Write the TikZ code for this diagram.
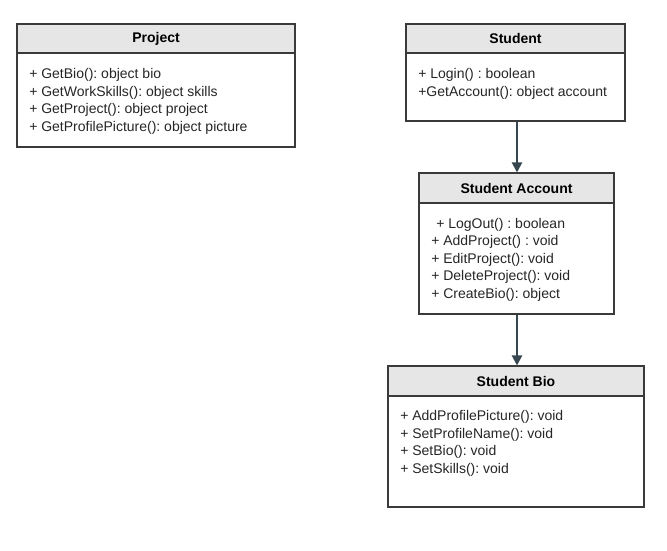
\documentclass[tikz,border=0pt]{standalone}
\usepackage{fontspec}
\setmainfont{Liberation Sans}
\usetikzlibrary{fit,arrows.meta}
\definecolor{hdrfill}{HTML}{E6E6E6}
\definecolor{boxline}{HTML}{3A3A3A}
\definecolor{arrowcol}{HTML}{37474F}
\tikzset{
  hdr/.style={draw=boxline, fill=hdrfill, line width=0.8pt, inner sep=0pt},
  hdrtext/.style={inner sep=0pt, font=\fontsize{10.5}{12}\selectfont\bfseries\frenchspacing},
  bodybox/.style={draw=boxline, fill=white, line width=0.8pt, inner sep=0pt},
  member/.style={anchor=base west, inner sep=0pt, font=\fontsize{10.5}{12}\selectfont\frenchspacing, text=black!85},
  link/.style={draw=arrowcol, line width=1.6pt, -{Triangle[length=7.5pt,width=7.5pt]}}
}
\begin{document}
\begin{tikzpicture}[x=0.75pt,y=-0.75pt]
\useasboundingbox (0,0) rectangle (667,550);
% Project
\node[bodybox, fit={(17,53) (295,147)}] (pbody) {};
\node[hdr, fit={(17,24) (295,53)}] (phdr) {};
\node[hdrtext] (pt) at (phdr.center) {Project};
\node[member] (p1) at (29,78.5) {+ GetBio(): object bio};
\node[member] (p2) at (29,96.5) {+ GetWorkSkills(): object skills};
\node[member] (p3) at (29,113.5) {+ GetProject(): object project};
\node[member] (p4) at (29,131.5) {+ GetProfilePicture(): object picture};
% Student
\node[bodybox, fit={(406,53) (625,121)}] (sbody) {};
\node[hdr, fit={(406,24) (625,53)}] (shdr) {};
\node[hdrtext] (st) at (shdr.center) {Student};
\node[member] (s1) at (418,78.5) {+ Login() : boolean};
\node[member] (s2) at (418,96.5) {+GetAccount(): object account};
% Student Account
\node[bodybox, fit={(419,203) (614,314)}] (abody) {};
\node[hdr, fit={(419,173) (614,203)}] (ahdr) {};
\node[hdrtext] (at) at (ahdr.center) {Student Account};
\node[member] (a1) at (436,228.5) {+ LogOut() : boolean};
\node[member] (a2) at (431,245.5) {+ AddProject() : void};
\node[member] (a3) at (431,263.5) {+ EditProject(): void};
\node[member] (a4) at (431,280.5) {+ DeleteProject(): void};
\node[member] (a5) at (431,298.5) {+ CreateBio(): object};
% Student Bio
\node[bodybox, fit={(388,396) (644,507)}] (bbody) {};
\node[hdr, fit={(388,366) (644,396)}] (bhdr) {};
\node[hdrtext] (bt) at (bhdr.center) {Student Bio};
\node[member] (b1) at (400,420.5) {+ AddProfilePicture(): void};
\node[member] (b2) at (400,438.5) {+ SetProfileName(): void};
\node[member] (b3) at (400,455.5) {+ SetBio(): void};
\node[member] (b4) at (400,473.5) {+ SetSkills(): void};
% connectors
\draw[link] (sbody.south -| 517,0) -- (ahdr.north -| 517,0);
\draw[link] (abody.south -| 517,0) -- (bhdr.north -| 517,0);
\end{tikzpicture}
\end{document}
